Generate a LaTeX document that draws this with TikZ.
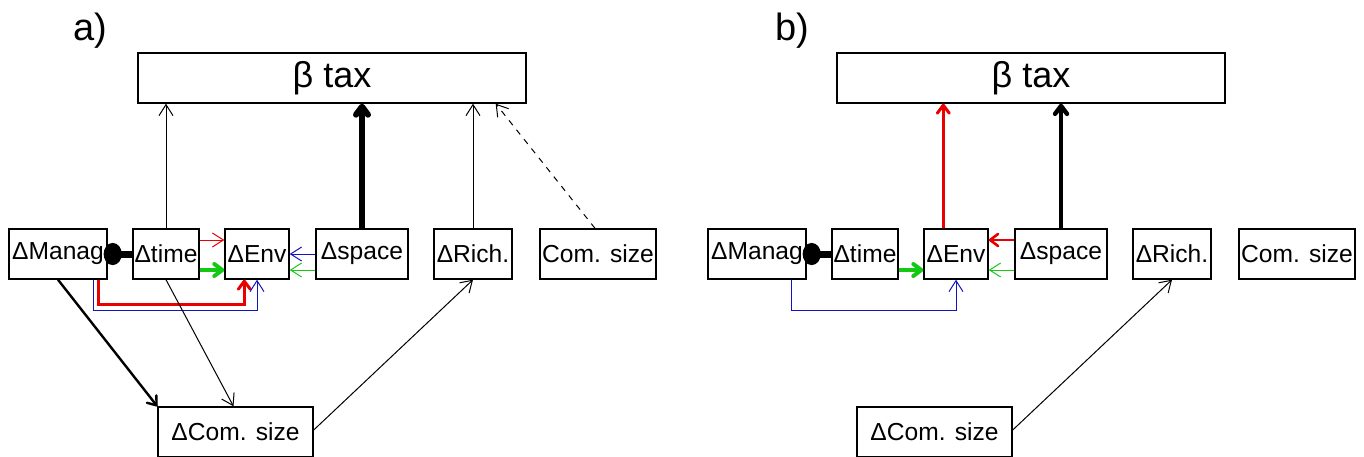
\documentclass[tikz,border=0pt]{standalone}
\usepackage{fontspec}
\setmainfont{Liberation Sans}
\usetikzlibrary{arrows.meta,calc}
\definecolor{myred}{RGB}{235,0,0}
\definecolor{mygreen}{RGB}{20,200,20}
\definecolor{myblue}{RGB}{20,20,190}
\begin{document}
\begin{tikzpicture}[x=0.5pt,y=-0.5pt,
  box/.style={draw,line width=0.7pt,rectangle,inner sep=0pt,minimum height=25pt,font=\fontsize{12.3}{14}\selectfont},
  bigbox/.style={box,font=\fontsize{18}{20}\selectfont},
  lab/.style={font=\fontsize{19}{22}\selectfont,inner sep=0pt},
  thinarr/.style={line width=0.5pt,-{Straight Barb[length=5.5pt,width=7pt]}},
  thkarr/.style={line width=#1,-{Straight Barb[length=4pt,width=6pt,round]}},
  blob/.style={line width=3.5pt,-{Ellipse[length=9pt,width=11pt]}}]
\useasboundingbox (0,0) rectangle (1364,456);
\clip (0,0) rectangle (1364,456);

% ---------------- panel a ----------------
\node[lab] (la) at (90,31) {a)};
\node[bigbox,minimum width=194pt] (beta) at (332,78) {β tax};
\node[box,minimum width=49pt] (manag) at (58,254) {ΔManag};
\node[box,minimum width=33pt] (time) at (166,254) {Δtime};
\node[box,minimum width=32pt] (env) at (257,254) {ΔEnv};
\node[box,minimum width=46pt] (space) at (362,254) {Δspace};
\node[box,minimum width=39pt] (rich) at (473,254) {ΔRich.};
\node[box,minimum width=58pt] (com) at (598,254) {Com. size};
\node[box,minimum width=77.5pt] (dcom) at (235.5,432) {ΔCom. size};

\draw[thinarr] (time.north) -- (time.north |- beta.south);
\draw[thkarr=3pt] (space.north) -- (space.north |- beta.south);
\draw[thinarr] (rich.north) -- (rich.north |- beta.south);
\draw[thinarr,dashed] ($(com.north)+(-3,0)$) -- ($(beta.south east)+(-31,0)$);

\draw[blob] (time.west) -- ($(manag.east)+(-4,0)$);
\draw[thinarr,myred] ($(time.east)+(0,-14)$) -- ($(env.west)+(0,-14)$);
\draw[thkarr=2pt,mygreen] ($(time.east)+(0,16)$) -- ($(env.west)+(0,16)$);
\draw[thinarr,myblue] (space.west) -- (env.east);
\draw[thinarr,mygreen] ($(space.west)+(0,16)$) -- ($(env.east)+(0,16)$);
\draw[thkarr=1.5pt,myred] ($(manag.south east)+(-9,0)$) -- ++(0,25) -| ($(env.south west)+(20,0)$);
\draw[thinarr,myblue] ($(manag.south east)+(-14,0)$) -- ++(0,31) -| (env.south);

\draw[thkarr=1.2pt] (manag.south) -- (dcom.north west);
\draw[thinarr] (time.south) -- ($(dcom.north)+(-2,0)$);
\draw[thinarr] ($(dcom.east)+(0,-2)$) -- (rich.south);

% ---------------- panel b ----------------
\node[lab] (lb) at (792,31) {b)};
\node[bigbox,minimum width=194pt] (betab) at (1031,78) {β tax};
\node[box,minimum width=49pt] (managb) at (757,254) {ΔManag};
\node[box,minimum width=33pt] (timeb) at (865,254) {Δtime};
\node[box,minimum width=32pt] (envb) at (956,254) {ΔEnv};
\node[box,minimum width=46pt] (spaceb) at (1061,254) {Δspace};
\node[box,minimum width=39pt] (richb) at (1172,254) {ΔRich.};
\node[box,minimum width=58pt] (comb) at (1297,254) {Com. size};
\node[box,minimum width=77.5pt] (dcomb) at (934.5,432) {ΔCom. size};

\coordinate (eb) at ($(envb.north west)+(20,0)$);
\draw[thkarr=1.5pt,myred] (eb) -- (eb |- betab.south);
\draw[thkarr=2.2pt] (spaceb.north) -- (spaceb.north |- betab.south);

\draw[blob] (timeb.west) -- ($(managb.east)+(-4,0)$);
\draw[thkarr=2pt,mygreen] ($(timeb.east)+(0,16)$) -- ($(envb.west)+(0,16)$);
\draw[thkarr=1.3pt,myred] ($(spaceb.west)+(0,-14)$) -- ($(envb.east)+(0,-14)$);
\draw[thinarr,mygreen] ($(spaceb.west)+(0,16)$) -- ($(envb.east)+(0,16)$);
\draw[thinarr,myblue] ($(managb.south east)+(-15,0)$) -- ++(0,31) -| (envb.south);

\draw[thinarr] ($(dcomb.east)+(0,-2)$) -- (richb.south);
\end{tikzpicture}
\end{document}
